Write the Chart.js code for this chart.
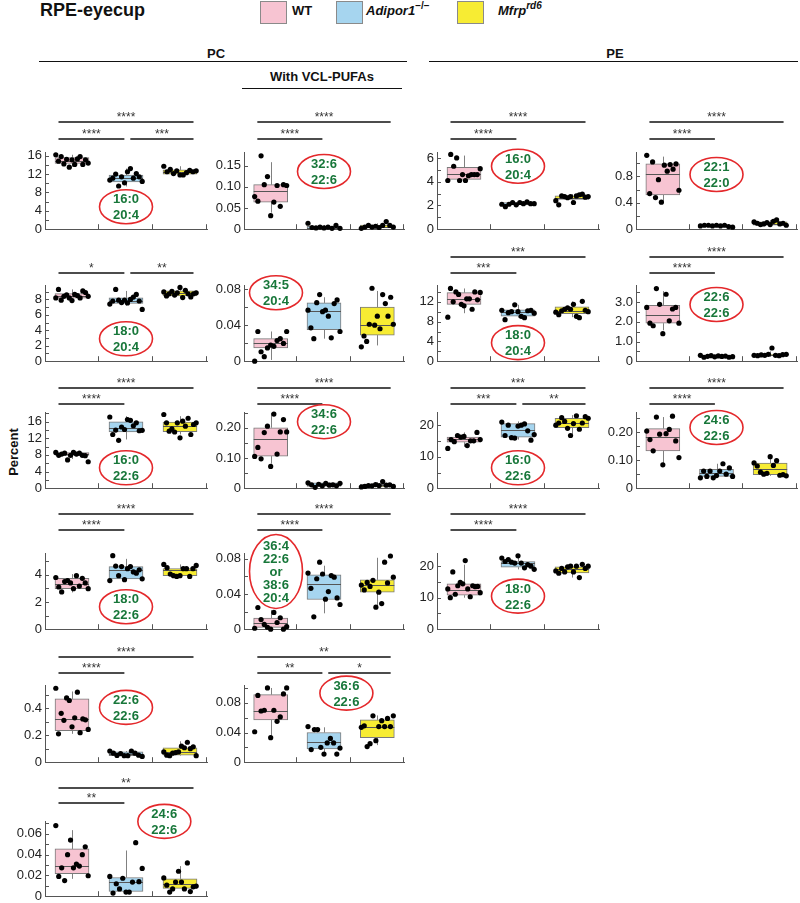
<!DOCTYPE html>
<html>
<head>
<meta charset="utf-8">
<script src="https://cdn.jsdelivr.net/npm/chart.js@4.4.1/dist/chart.umd.min.js"></script>
<style>
  body { margin: 0; background: #fff; }
  #fig { position: relative; width: 800px; height: 903px; overflow: hidden;
         font-family: "Liberation Sans", Arial, sans-serif; color: #111; }
  .t { position: absolute; white-space: nowrap; }
  .hd { font: bold 13px/16px "Liberation Sans", Arial, sans-serif; text-align: center; width: 200px; }
  .lg { font: bold 13px/18px "Liberation Sans", Arial, sans-serif; top: 2px; }
  .sw { position: absolute; top: 1px; width: 27px; height: 23px; box-sizing: border-box; border: 1px solid #8a8a8a; }
  .rule { position: absolute; height: 0; border-top: 1.6px solid #111; }
  sup { font-size: 10px; vertical-align: baseline; position: relative; top: -6px; }
</style>
</head>
<body>
<div id="fig">
  <div class="t" style="left:40px;top:0;font:bold 18px/20px 'Liberation Sans',Arial,sans-serif;">RPE-eyecup</div>
  <div class="sw" style="left:260px;background:#f7c4d2"></div>
  <div class="t lg" style="left:292px">WT</div>
  <div class="sw" style="left:336px;background:#a6d5ef"></div>
  <div class="t lg" style="left:366px"><i>Adipor1</i><sup>−/−</sup></div>
  <div class="sw" style="left:457px;background:#f7ec33"></div>
  <div class="t lg" style="left:498px"><i>Mfrp</i><sup><i>rd6</i></sup></div>

  <div class="t hd" style="left:116px;top:46px">PC</div>
  <div class="rule" style="left:39px;top:61px;width:368px"></div>
  <div class="t hd" style="left:515px;top:46px">PE</div>
  <div class="rule" style="left:429px;top:61px;width:369px"></div>
  <div class="t hd" style="left:222px;top:69px">With VCL-PUFAs</div>
  <div class="rule" style="left:242px;top:88px;width:160px"></div>

  <div class="t" style="left:-11px;top:444px;width:50px;text-align:center;transform:rotate(-90deg);font:bold 13px/16px 'Liberation Sans',Arial,sans-serif;">Percent</div>
</div>
<script>
// groups: WT, Adipor1-/-, Mfrp rd6
const groups = ['WT', 'Adipor1−/−', 'Mfrp rd6'];
const groupColors = ['#f7c4d2', '#a6d5ef', '#f7ec33'];

// box = [low whisker, q1, median, q3, high whisker]
// PC 16:0/20:4
const pc160_204Pts = [
  [16.2, 14.8, 15.8, 14.2, 15.2, 13.5, 15.1, 14.1, 15.3, 15.8, 14.1, 15.1, 14.4],
  [10.7, 11.1, 12.0, 9.4, 11.4, 10.1, 12.5, 13.2, 11.1, 12.1, 11.4, 10.4],
  [13.7, 12.5, 13.0, 12.1, 12.7, 11.8, 11.8, 12.3, 12.8, 12.5, 12.7]
];
const pc160_204Box = [[13.6, 14.3, 14.9, 15.6, 16.2], [9.3, 10.3, 11.1, 11.8, 13.2], [11.6, 12.0, 12.4, 12.9, 13.7]];
const pc160_204Sig = [[0, 2, '****'], [0, 1, '****'], [1, 2, '***']];
const pc160_204Ticks = [0, 2, 4, 6, 8, 10, 12, 14, 16];
const pc160_204Labels = ['0', '', '4', '', '8', '', '12', '', '16'];

// PC 32:6/22:6
const pc326_226Pts = [
  [0.077, 0.066, 0.173, 0.105, 0.124, 0.032, 0.064, 0.103, 0.054, 0.105, 0.103],
  [0.014, 0.004, 0.003, 0.005, 0.003, 0.005, 0.002, 0.009, 0.002],
  [0.002, 0.005, 0.009, 0.005, 0.007, 0.004, 0.009, 0.018, 0.009, 0.005]
];
const pc326_226Box = [[0.039, 0.064, 0.090, 0.105, 0.158], [0.001, 0.002, 0.004, 0.007, 0.010], [0.002, 0.003, 0.006, 0.010, 0.014]];
const pc326_226Sig = [[0, 2, '****'], [0, 1, '****']];
const pc326_226Ticks = [0, 0.05, 0.10, 0.15];
const pc326_226Labels = ['0', '0.05', '0.10', '0.15'];

// PE 16:0/20:4
const pe160_204Pts = [
  [4.1, 6.3, 5.3, 6.0, 4.1, 4.6, 4.1, 4.5, 4.6, 4.6, 4.6, 5.1],
  [2.1, 1.9, 2.1, 2.25, 2.05, 2.25, 2.15, 2.3, 2.15, 2.15],
  [2.4, 2.05, 2.8, 2.75, 2.65, 2.75, 2.25, 2.8, 2.9, 2.95, 2.7, 2.75]
];
const pe160_204Box = [[4.1, 4.2, 4.65, 5.2, 6.2], [1.95, 2.05, 2.15, 2.25, 2.3], [2.4, 2.5, 2.65, 2.8, 2.95]];
const pe160_204Sig = [[0, 2, '****'], [0, 1, '****']];
const pe160_204Ticks = [0, 1, 2, 3, 4, 5, 6];
const pe160_204Labels = ['0', '', '2', '', '4', '', '6'];

// PE 22:1/22:0
const pe221_220Pts = [
  [1.12, 0.54, 1.02, 0.48, 0.75, 0.41, 0.97, 0.88, 0.98, 0.91, 0.99, 0.59],
  [0.05, 0.06, 0.06, 0.05, 0.06, 0.05, 0.06, 0.04, 0.03],
  [0.11, 0.09, 0.07, 0.08, 0.10, 0.07, 0.12, 0.14, 0.08, 0.09, 0.06]
];
const pe221_220Box = [[0.40, 0.52, 0.84, 0.99, 1.10], [0.03, 0.045, 0.05, 0.06, 0.065], [0.05, 0.06, 0.08, 0.11, 0.14]];
const pe221_220Sig = [[0, 2, '****'], [0, 1, '****']];
const pe221_220Ticks = [0, 0.2, 0.4, 0.6, 0.8, 1.0];
const pe221_220Labels = ['0', '', '0.4', '', '0.8', ''];

// PC 18:0/20:4
const pc180_204Pts = [
  [8.2, 9.3, 7.9, 8.4, 8.6, 8.2, 7.85, 8.65, 8.5, 8.2, 9.1, 8.9, 8.4],
  [7.4, 7.8, 9.3, 7.9, 7.6, 7.9, 7.55, 8.0, 8.3, 8.65, 7.8, 6.7],
  [8.97, 8.45, 8.73, 9.06, 8.57, 8.86, 9.55, 8.24, 9.18, 8.73, 8.33, 8.73, 8.86]
];
const pc180_204Box = [[7.8, 8.15, 8.45, 8.75, 9.3], [7.2, 7.5, 7.8, 8.2, 9.1], [8.2, 8.45, 8.85, 9.1, 9.55]];
const pc180_204Sig = [[0, 1, '*'], [1, 2, '**']];
const pc180_204Ticks = [0, 1, 2, 3, 4, 5, 6, 7, 8, 9];
const pc180_204Labels = ['0', '', '2', '', '4', '', '6', '', '8', ''];

// PC 34:5/20:4
const pc345_204Pts = [
  [0.0, 0.033, 0.0105, 0.005, 0.0147, 0.018, 0.0165, 0.023, 0.025, 0.0197, 0.033],
  [0.0566, 0.037, 0.025, 0.065, 0.074, 0.055, 0.0566, 0.05, 0.026, 0.064, 0.068, 0.033],
  [0.016, 0.028, 0.022, 0.041, 0.081, 0.040, 0.050, 0.036, 0.074, 0.064, 0.050, 0.071, 0.041]
];
const pc345_204Box = [[0.0014, 0.0147, 0.020, 0.025, 0.033], [0.025, 0.035, 0.056, 0.0647, 0.071], [0.0175, 0.029, 0.040, 0.060, 0.078]];
const pc345_204Sig = [];
const pc345_204Ticks = [0, 0.02, 0.04, 0.06, 0.08];
const pc345_204Labels = ['0', '', '0.04', '', '0.08'];

// PE 18:0/20:4
const pe180_204Pts = [
  [8.9, 14.7, 12.0, 14.0, 13.5, 11.5, 11.2, 12.6, 12.6, 10.5, 14.0, 12.4, 13.9],
  [10.3, 8.4, 9.8, 10.0, 11.4, 10.0, 9.06, 8.8, 10.2, 10.3, 9.7],
  [9.9, 9.4, 10.2, 10.5, 10.8, 10.5, 11.5, 9.06, 8.8, 12.1, 10.3, 10.0]
];
const pe180_204Box = [[9.7, 11.5, 12.6, 13.85, 14.7], [8.8, 9.1, 10.0, 10.4, 11.4], [8.9, 9.6, 10.2, 11.0, 12.1]];
const pe180_204Sig = [[0, 2, '***'], [0, 1, '***']];
const pe180_204Ticks = [0, 2, 4, 6, 8, 10, 12, 14];
const pe180_204Labels = ['0', '', '4', '', '8', '', '12', ''];

// PE 22:6/22:6
const pe226_226Pts = [
  [2.73, 1.93, 1.8, 3.69, 2.89, 1.4, 3.4, 2.05, 2.65, 2.73, 1.93],
  [0.3, 0.2, 0.25, 0.28, 0.22, 0.27, 0.24, 0.26, 0.2, 0.23],
  [0.3, 0.28, 0.32, 0.3, 0.35, 0.67, 0.3, 0.28, 0.33, 0.35]
];
const pe226_226Box = [[1.57, 1.93, 2.33, 2.84, 3.56], [0.16, 0.2, 0.24, 0.27, 0.32], [0.22, 0.27, 0.3, 0.35, 0.5]];
const pe226_226Sig = [[0, 2, '****'], [0, 1, '****']];
const pe226_226Ticks = [0, 0.5, 1.0, 1.5, 2.0, 2.5, 3.0, 3.5];
const pe226_226Labels = ['0', '', '1.0', '', '2.0', '', '3.0', ''];

// PC 16:0/22:6
const pc160_226Pts = [
  [8.6, 7.9, 8.2, 8.4, 6.8, 7.9, 8.6, 8.2, 8.4, 7.9, 7.8, 6.35],
  [17.1, 12.9, 13.97, 11.5, 14.7, 14.1, 16.5, 16.3, 15.0, 15.7, 13.8, 13.9],
  [17.7, 15.7, 13.7, 14.25, 13.5, 15.7, 12.1, 16.1, 14.9, 16.8, 12.9, 15.3, 15.7]
];
const pc160_226Box = [[7.0, 7.9, 8.25, 8.55, 8.7], [11.7, 13.5, 14.4, 15.95, 17.3], [12.9, 13.6, 14.9, 15.9, 17.3]];
const pc160_226Sig = [[0, 2, '****'], [0, 1, '****']];
const pc160_226Ticks = [0, 2, 4, 6, 8, 10, 12, 14, 16, 18];
const pc160_226Labels = ['0', '', '4', '', '8', '', '12', '', '16', ''];

// PC 34:6/22:6
const pc346_226Pts = [
  [0.105, 0.135, 0.097, 0.184, 0.205, 0.072, 0.245, 0.113, 0.186, 0.227, 0.186],
  [0.018, 0.011, 0.003, 0.013, 0.008, 0.016, 0.01, 0.011, 0.008, 0.016],
  [0.004, 0.006, 0.009, 0.008, 0.012, 0.009, 0.022, 0.01, 0.011, 0.006]
];
const pc346_226Box = [[0.081, 0.106, 0.162, 0.20, 0.249], [0.003, 0.006, 0.01, 0.018, 0.018], [0.002, 0.004, 0.009, 0.013, 0.02]];
const pc346_226Sig = [[0, 2, '****'], [0, 1, '****']];
const pc346_226Ticks = [0, 0.05, 0.10, 0.15, 0.20, 0.25];
const pc346_226Labels = ['0', '', '0.10', '', '0.20', ''];

// PE 16:0/22:6
const pe160_226Pts = [
  [12.7, 15.5, 14.85, 16.8, 16.3, 16.5, 13.6, 15.1, 15.1, 17.8, 15.5],
  [21.1, 16.8, 20.1, 16.1, 16.0, 19.8, 20.1, 20.5, 18.3, 15.3, 17.1],
  [20.1, 20.8, 22.5, 21.3, 19.1, 16.8, 20.6, 23.1, 18.8, 20.8, 22.8, 22.3]
];
const pe160_226Box = [[13.2, 14.65, 15.6, 16.3, 17.8], [15.5, 16.3, 18.5, 20.6, 21.3], [17.2, 19.3, 20.8, 22.3, 23.3]];
const pe160_226Sig = [[0, 2, '***'], [0, 1, '***'], [1, 2, '**']];
const pe160_226Ticks = [0, 5, 10, 15, 20];
const pe160_226Labels = ['0', '', '10', '', '20'];

// PE 24:6/22:6
const pe246_226Pts = [
  [0.203, 0.173, 0.133, 0.253, 0.192, 0.083, 0.194, 0.209, 0.256, 0.168, 0.109],
  [0.037, 0.061, 0.042, 0.061, 0.037, 0.045, 0.061, 0.087, 0.05, 0.072, 0.042],
  [0.09, 0.079, 0.057, 0.05, 0.053, 0.112, 0.081, 0.098, 0.046, 0.048, 0.044]
];
const pe246_226Box = [[0.081, 0.133, 0.183, 0.212, 0.253], [0.037, 0.042, 0.054, 0.067, 0.087], [0.044, 0.048, 0.07, 0.089, 0.12]];
const pe246_226Sig = [[0, 2, '****'], [0, 1, '****']];
const pe246_226Ticks = [0, 0.05, 0.10, 0.15, 0.20, 0.25];
const pe246_226Labels = ['0', '', '0.10', '', '0.20', ''];

// PC 18:0/22:6
const pc180_226Pts = [
  [3.8, 3.1, 2.74, 3.5, 3.57, 3.4, 2.98, 3.93, 3.17, 3.74, 3.4, 2.98],
  [3.57, 5.4, 4.64, 3.93, 4.6, 3.64, 4.45, 4.6, 4.21, 4.12, 4.36, 3.7],
  [4.76, 4.52, 4.05, 3.93, 3.88, 3.93, 4.45, 4.45, 3.88, 4.45, 4.69]
];
const pc180_226Box = [[2.7, 2.98, 3.33, 3.74, 4.05], [3.57, 3.7, 4.36, 4.6, 5.17], [3.88, 3.93, 4.36, 4.45, 4.76]];
const pc180_226Sig = [[0, 2, '****'], [0, 1, '****']];
const pc180_226Ticks = [0, 1, 2, 3, 4, 5];
const pc180_226Labels = ['0', '', '2', '', '4', ''];

// PC 36:4/22:6 or 38:6/20:4
const pc364_226Pts = [
  [0.0011, 0.0246, 0.0109, 0.0054, 0.0022, 0.0, 0.019, 0.0076, 0.013, 0.0, 0.0029],
  [0.0636, 0.0463, 0.014, 0.0572, 0.076, 0.0626, 0.034, 0.0427, 0.0608, 0.059, 0.0355, 0.028],
  [0.050, 0.0445, 0.053, 0.0485, 0.0554, 0.025, 0.042, 0.029, 0.076, 0.0525, 0.083, 0.059]
];
const pc364_226Box = [[0.0, 0.002, 0.0065, 0.0127, 0.0217], [0.018, 0.0337, 0.0507, 0.0616, 0.072], [0.025, 0.042, 0.050, 0.056, 0.081]];
const pc364_226Sig = [[0, 2, '****'], [0, 1, '****']];
const pc364_226Ticks = [0, 0.02, 0.04, 0.06, 0.08];
const pc364_226Labels = ['0', '', '0.04', '', '0.08'];

// PE 18:0/22:6
const pe180_226Pts = [
  [12.8, 10.0, 18.2, 11.1, 13.8, 14.9, 14.4, 21.8, 12.8, 10.3, 13.8, 13.5, 13.6, 11.6],
  [22.6, 21.5, 22.1, 21.3, 21.0, 23.3, 21.0, 19.5, 20.5, 20.0, 19.0],
  [18.5, 17.8, 19.3, 18.2, 19.8, 20.0, 18.2, 20.0, 16.4, 20.6, 19.3, 20.0]
];
const pe180_226Box = [[10.0, 10.8, 12.3, 14.4, 20.5], [19.0, 19.7, 21.0, 21.5, 23.3], [16.4, 17.9, 19.0, 19.8, 20.6]];
const pe180_226Sig = [[0, 2, '****'], [0, 1, '****']];
const pe180_226Ticks = [0, 5, 10, 15, 20];
const pe180_226Labels = ['0', '', '10', '', '20'];

// PC 22:6/22:6
const pc226_226Pts = [
  [0.548, 0.21, 0.362, 0.31, 0.476, 0.457, 0.262, 0.329, 0.519, 0.219, 0.321, 0.314, 0.243],
  [0.083, 0.067, 0.05, 0.064, 0.048, 0.048, 0.083, 0.067, 0.052, 0.043],
  [0.076, 0.052, 0.048, 0.067, 0.071, 0.076, 0.119, 0.107, 0.148, 0.1, 0.114, 0.048]
];
const pc226_226Box = [[0.21, 0.233, 0.317, 0.469, 0.524], [0.043, 0.048, 0.06, 0.076, 0.083], [0.048, 0.052, 0.076, 0.107, 0.155]];
const pc226_226Sig = [[0, 2, '****'], [0, 1, '****']];
const pc226_226Ticks = [0, 0.1, 0.2, 0.3, 0.4, 0.5];
const pc226_226Labels = ['0', '', '0.2', '', '0.4', ''];

// PC 36:6/22:6
const pc366_226Pts = [
  [0.041, 0.09, 0.069, 0.07, 0.1, 0.033, 0.07, 0.055, 0.061, 0.092, 0.1],
  [0.048, 0.017, 0.044, 0.044, 0.02, 0.011, 0.026, 0.032, 0.026, 0.011, 0.019],
  [0.047, 0.049, 0.021, 0.025, 0.0625, 0.029, 0.048, 0.056, 0.048, 0.059, 0.048, 0.0625]
];
const pc366_226Box = [[0.036, 0.057, 0.069, 0.091, 0.10], [0.013, 0.018, 0.0275, 0.04, 0.047], [0.023, 0.033, 0.048, 0.057, 0.063]];
const pc366_226Sig = [[0, 2, '**'], [0, 1, '**'], [1, 2, '*']];
const pc366_226Ticks = [0, 0.02, 0.04, 0.06, 0.08, 0.10];
const pc366_226Labels = ['0', '', '0.04', '', '0.08', ''];

// PC 24:6/22:6
const pc246_226Pts = [
  [0.068, 0.019, 0.0273, 0.015, 0.040, 0.054, 0.0273, 0.031, 0.029, 0.040, 0.0476, 0.0197],
  [0.019, 0.003, 0.012, 0.007, 0.0173, 0.004, 0.004, 0.0136, 0.0515, 0.014, 0.0267],
  [0.0176, 0.0106, 0.004, 0.007, 0.0136, 0.024, 0.0136, 0.007, 0.032, 0.0045, 0.009, 0.0097]
];
const pc246_226Box = [[0.0167, 0.0218, 0.0294, 0.0455, 0.0636], [0.0045, 0.0045, 0.0136, 0.018, 0.044], [0.0076, 0.0076, 0.012, 0.0167, 0.029]];
const pc246_226Sig = [[0, 2, '**'], [0, 1, '**']];
const pc246_226Ticks = [0, 0.01, 0.02, 0.03, 0.04, 0.05, 0.06, 0.07];
const pc246_226Labels = ['0', '', '0.02', '', '0.04', '', '0.06', ''];

// ---- layout ----
const cols = [[45, 208], [244, 405], [437, 600], [636, 798]];          // y-axis x, right end
const rows = [[152, 231], [285, 363], [412, 490], [553, 631], [685, 764], [821, 898]]; // plot top, zero line
const bracketY = [[-30, -13], [-28, -12], [-24, -8], [-39, -23], [-28, -12], [-33, -18]];
const AXIS = '#555';
const FONT = '"Liberation Sans", Arial, sans-serif';

const panels = [
  {col: 0, row: 0, max: 16.8, pts: pc160_204Pts, box: pc160_204Box, sig: pc160_204Sig, ticks: pc160_204Ticks, labels: pc160_204Labels, tag: ['16:0', '20:4'], tagAt: [1, 4.9]},
  {col: 1, row: 0, max: 0.182, pts: pc326_226Pts, box: pc326_226Box, sig: pc326_226Sig, ticks: pc326_226Ticks, labels: pc326_226Labels, tag: ['32:6', '22:6'], tagAt: [1, 0.136]},
  {col: 2, row: 0, max: 6.5, pts: pe160_204Pts, box: pe160_204Box, sig: pe160_204Sig, ticks: pe160_204Ticks, labels: pe160_204Labels, tag: ['16:0', '20:4'], tagAt: [1, 5.3]},
  {col: 3, row: 0, max: 1.17, pts: pe221_220Pts, box: pe221_220Box, sig: pe221_220Sig, ticks: pe221_220Ticks, labels: pe221_220Labels, tag: ['22:1', '22:0'], tagAt: [1, 0.83]},
  {col: 0, row: 1, max: 9.87, pts: pc180_204Pts, box: pc180_204Box, sig: pc180_204Sig, ticks: pc180_204Ticks, labels: pc180_204Labels, tag: ['18:0', '20:4'], tagAt: [1, 2.9]},
  {col: 1, row: 1, max: 0.0846, pts: pc345_204Pts, box: pc345_204Box, sig: pc345_204Sig, ticks: pc345_204Ticks, labels: pc345_204Labels, tag: ['34:5', '20:4'], tagAt: [0.1, 0.076]},
  {col: 2, row: 1, max: 15.4, pts: pe180_204Pts, box: pe180_204Box, sig: pe180_204Sig, ticks: pe180_204Ticks, labels: pe180_204Labels, tag: ['18:0', '20:4'], tagAt: [1, 3.75]},
  {col: 3, row: 1, max: 3.87, pts: pe226_226Pts, box: pe226_226Box, sig: pe226_226Sig, ticks: pe226_226Ticks, labels: pe226_226Labels, tag: ['22:6', '22:6'], tagAt: [1, 2.88]},
  {col: 0, row: 2, max: 18.3, pts: pc160_226Pts, box: pc160_226Box, sig: pc160_226Sig, ticks: pc160_226Ticks, labels: pc160_226Labels, tag: ['16:0', '22:6'], tagAt: [1, 4.9]},
  {col: 1, row: 2, max: 0.252, pts: pc346_226Pts, box: pc346_226Box, sig: pc346_226Sig, ticks: pc346_226Ticks, labels: pc346_226Labels, tag: ['34:6', '22:6'], tagAt: [1, 0.22]},
  {col: 2, row: 2, max: 24.3, pts: pe160_226Pts, box: pe160_226Box, sig: pe160_226Sig, ticks: pe160_226Ticks, labels: pe160_226Labels, tag: ['16:0', '22:6'], tagAt: [1, 6.5]},
  {col: 3, row: 2, max: 0.271, pts: pe246_226Pts, box: pe246_226Box, sig: pe246_226Sig, ticks: pe246_226Ticks, labels: pe246_226Labels, tag: ['24:6', '22:6'], tagAt: [1, 0.216]},
  {col: 0, row: 3, max: 5.6, pts: pc180_226Pts, box: pc180_226Box, sig: pc180_226Sig, ticks: pc180_226Ticks, labels: pc180_226Labels, tag: ['18:0', '22:6'], tagAt: [1, 1.65]},
  {col: 1, row: 3, max: 0.0864, pts: pc364_226Pts, box: pc364_226Box, sig: pc364_226Sig, ticks: pc364_226Ticks, labels: pc364_226Labels, tag: ['36:4', '22:6', 'or', '38:6', '20:4'], tagAt: [0.1, 0.0655], tagRy: 37},
  {col: 2, row: 3, max: 24.2, pts: pe180_226Pts, box: pe180_226Box, sig: pe180_226Sig, ticks: pe180_226Ticks, labels: pe180_226Labels, tag: ['18:0', '22:6'], tagAt: [1, 10.5]},
  {col: 0, row: 4, max: 0.572, pts: pc226_226Pts, box: pc226_226Box, sig: pc226_226Sig, ticks: pc226_226Ticks, labels: pc226_226Labels, tag: ['22:6', '22:6'], tagAt: [1, 0.406]},
  {col: 1, row: 4, max: 0.104, pts: pc366_226Pts, box: pc366_226Box, sig: pc366_226Sig, ticks: pc366_226Ticks, labels: pc366_226Labels, tag: ['36:6', '22:6'], tagAt: [1.42, 0.093]},
  {col: 0, row: 5, max: 0.0724, pts: pc246_226Pts, box: pc246_226Box, sig: pc246_226Sig, ticks: pc246_226Ticks, labels: pc246_226Labels, tag: ['24:6', '22:6'], tagAt: [1.71, 0.072]}
];

const PAD_TOP = 54, Y_W = 44, X_H = 9;

function seg(ctx, x1, y1, x2, y2) {
  ctx.beginPath();
  ctx.moveTo(x1, y1);
  ctx.lineTo(x2, y2);
  ctx.stroke();
}

function makePanel(p) {
  const [axisX, right] = cols[p.col];
  const [top, zero] = rows[p.row];
  const left = axisX - Y_W, ctop = top - PAD_TOP;
  const w = right - left + 3, h = zero - ctop + X_H;
  const cv = document.createElement('canvas');
  cv.width = w;
  cv.height = h;
  cv.style.cssText = `position:absolute;left:${left}px;top:${ctop}px;width:${w}px;height:${h}px`;
  document.getElementById('fig').appendChild(cv);

  // spread the dots of each group across the box width
  const dots = [];
  p.pts.forEach((vals, g) => {
    vals.forEach((v, k) => {
      const off = vals.length > 1 ? -0.3 + 0.6 * k / (vals.length - 1) : 0;
      dots.push({x: g + off, y: v});
    });
  });

  const extras = {
    id: 'boxExtras',
    beforeDatasetsDraw(chart) {
      const {ctx, scales: {x, y}} = chart;
      ctx.save();
      ctx.strokeStyle = '#808080';
      ctx.lineWidth = 1;
      p.box.forEach((b, g) => {
        const px = Math.round(x.getPixelForValue(g)) + 0.5;
        seg(ctx, px, y.getPixelForValue(b[3]), px, y.getPixelForValue(b[4]));
        seg(ctx, px, y.getPixelForValue(b[0]), px, y.getPixelForValue(b[1]));
      });
      ctx.restore();
    },
    afterDatasetDraw(chart, args) {
      if (args.index !== 1) return;
      const {ctx, scales: {x, y}} = chart;
      const bars = chart.getDatasetMeta(1).data;
      ctx.save();
      ctx.strokeStyle = '#555';
      ctx.lineWidth = 1;
      p.box.forEach((b, g) => {
        const px = x.getPixelForValue(g), hw = bars[g].width / 2;
        const py = Math.round(y.getPixelForValue(b[2])) + 0.5;
        seg(ctx, px - hw, py, px + hw, py);
      });
      ctx.restore();
    },
    afterDraw(chart) {
      const {ctx, chartArea: a, scales: {x, y}} = chart;
      ctx.save();
      // inward tick marks
      ctx.strokeStyle = AXIS;
      ctx.lineWidth = 1;
      y.ticks.forEach(t => {
        const py = Math.round(y.getPixelForValue(t.value)) + 0.5;
        seg(ctx, a.left, py, a.left + 4, py);
      });
      [0.5, 1.5, 2.5].forEach(v => {
        const px = Math.round(x.getPixelForValue(v)) - 0.5;
        seg(ctx, px, a.bottom, px, a.bottom - 5);
      });
      // significance brackets
      ctx.strokeStyle = '#111';
      ctx.fillStyle = '#333';
      ctx.lineWidth = 1.6;
      ctx.font = `12px ${FONT}`;
      ctx.textAlign = 'center';
      ctx.textBaseline = 'alphabetic';
      p.sig.forEach(([i, j, stars]) => {
        const full = j - i === 2;
        const yy = a.top + bracketY[p.row][full ? 0 : 1];
        const x1 = x.getPixelForValue(i - 0.25 + (!full && i > 0 ? 0.33 : 0));
        const x2 = x.getPixelForValue(j + 0.25 - (!full && j < 2 ? 0.28 : 0));
        seg(ctx, x1, yy, x2, yy);
        ctx.fillText(stars, (x1 + x2) / 2, yy - 1.5);
      });
      // species label in red ellipse
      const cx = x.getPixelForValue(p.tagAt[0]), cy = y.getPixelForValue(p.tagAt[1]);
      ctx.beginPath();
      ctx.ellipse(cx, cy, 26.5, p.tagRy || 17, 0, 0, Math.PI * 2);
      ctx.strokeStyle = '#e4282b';
      ctx.lineWidth = 1.6;
      ctx.stroke();
      ctx.fillStyle = '#18773a';
      ctx.font = `bold 13px ${FONT}`;
      ctx.textBaseline = 'middle';
      const lh = p.tag.length > 2 ? 13 : 16;
      p.tag.forEach((s, k) => ctx.fillText(s, cx, cy + (k - (p.tag.length - 1) / 2) * lh + 1));
      ctx.restore();
    }
  };

  new Chart(cv, {
    type: 'bar',
    data: {
      datasets: [
        {
          type: 'scatter',
          data: dots,
          pointRadius: 2.6,
          pointBackgroundColor: '#000',
          pointBorderWidth: 0,
          showLine: false,
          clip: false,
          order: 0
        },
        {
          type: 'bar',
          data: p.box.map((b, g) => ({x: g, y: [b[1], b[3]]})),
          backgroundColor: groupColors,
          borderColor: '#7a7a7a',
          borderWidth: 1,
          borderSkipped: false,
          barThickness: 34,
          grouped: false,
          clip: false,
          order: 1
        }
      ]
    },
    options: {
      responsive: false,
      animation: false,
      events: [],
      devicePixelRatio: 1,
      layout: {padding: {top: PAD_TOP, left: 0, right: 3, bottom: 0}},
      plugins: {legend: {display: false}, tooltip: {enabled: false}},
      scales: {
        x: {
          type: 'linear',
          min: -0.5,
          max: 2.5,
          offset: false,
          grid: {display: false, drawTicks: false},
          border: {display: true, color: AXIS, width: 1},
          ticks: {display: false},
          afterFit: s => { s.height = X_H; }
        },
        y: {
          type: 'linear',
          min: 0,
          max: p.max,
          grid: {display: false, drawTicks: false},
          border: {display: true, color: AXIS, width: 1},
          afterBuildTicks: s => { s.ticks = p.ticks.map(v => ({value: v})); },
          ticks: {
            autoSkip: false,
            padding: 3,
            color: '#222',
            font: {family: FONT, size: 13},
            callback: (v, i) => p.labels[i]
          },
          afterFit: s => { s.width = Y_W; }
        }
      }
    },
    plugins: [extras]
  });
}

panels.forEach(makePanel);
</script>
</body>
</html>
